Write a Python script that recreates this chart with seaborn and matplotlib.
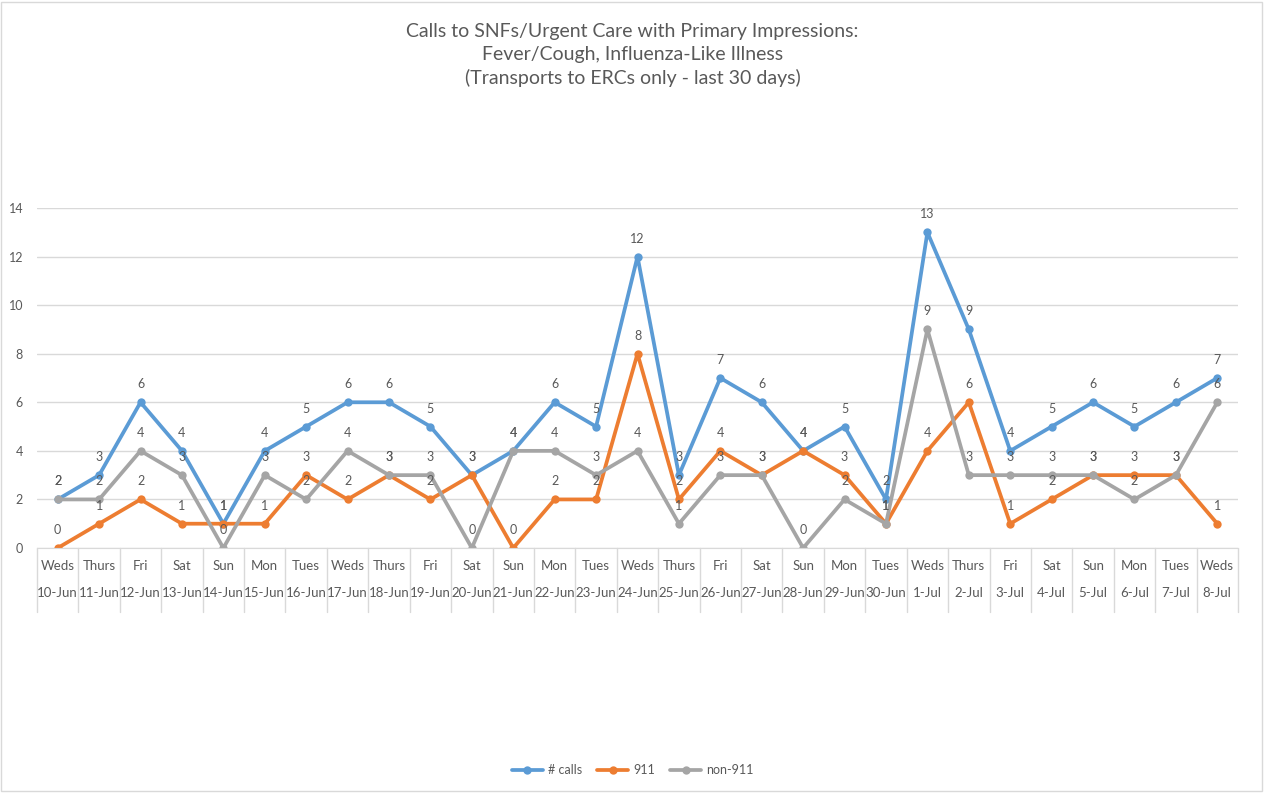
import pandas as pd
import numpy as np
import matplotlib
matplotlib.use('Agg')
import matplotlib.pyplot as plt
import matplotlib.transforms as mtransforms
from matplotlib.lines import Line2D
import seaborn as sns

sns.set_style("white")
plt.rcParams['font.family'] = ['Lato', 'DejaVu Sans']

# data
days = ["Weds", "Thurs", "Fri", "Sat", "Sun", "Mon", "Tues",
        "Weds", "Thurs", "Fri", "Sat", "Sun", "Mon", "Tues",
        "Weds", "Thurs", "Fri", "Sat", "Sun", "Mon", "Tues",
        "Weds", "Thurs", "Fri", "Sat", "Sun", "Mon", "Tues", "Weds"]
dates = ["10-Jun", "11-Jun", "12-Jun", "13-Jun", "14-Jun", "15-Jun", "16-Jun",
         "17-Jun", "18-Jun", "19-Jun", "20-Jun", "21-Jun", "22-Jun", "23-Jun",
         "24-Jun", "25-Jun", "26-Jun", "27-Jun", "28-Jun", "29-Jun", "30-Jun",
         "1-Jul", "2-Jul", "3-Jul", "4-Jul", "5-Jul", "6-Jul", "7-Jul", "8-Jul"]
calls = [2, 3, 6, 4, 1, 4, 5, 6, 6, 5, 3, 4, 6, 5, 12, 3, 7, 6, 4, 5, 2, 13, 9, 4, 5, 6, 5, 6, 7]
calls_911 = [0, 1, 2, 1, 1, 1, 3, 2, 3, 2, 3, 0, 2, 2, 8, 2, 4, 3, 4, 3, 1, 4, 6, 1, 2, 3, 3, 3, 1]
calls_non911 = [2, 2, 4, 3, 0, 3, 2, 4, 3, 3, 0, 4, 4, 3, 4, 1, 3, 3, 0, 2, 1, 9, 3, 3, 3, 3, 2, 3, 6]

series_names = ["# calls", "911", "non-911"]
colors = {"# calls": "#5B9BD5", "911": "#ED7D31", "non-911": "#A5A5A5"}
txt_color = "#595959"

pos = np.arange(len(dates))
df = pd.concat([
    pd.DataFrame({"pos": pos, "value": vals, "series": name})
    for name, vals in zip(series_names, [calls, calls_911, calls_non911])
], ignore_index=True)

fig = plt.figure(figsize=(12.65, 7.93), dpi=100)
ax = fig.add_axes([37 / 1265, 1 - 548 / 793, (1238 - 37) / 1265, (548 - 208) / 793])

sns.lineplot(data=df, x="pos", y="value", hue="series", hue_order=series_names,
             palette=colors, marker="o", markersize=6, markeredgewidth=0,
             linewidth=2.7, ax=ax, legend=False)

# data labels
for name in series_names:
    sub = df[df["series"] == name]
    for x, y in zip(sub["pos"], sub["value"]):
        ax.annotate(str(y), (x, y), xytext=(0, 13), textcoords="offset points",
                    ha="center", va="center", fontsize=9, color=txt_color)

ax.set_xlim(-0.5, len(dates) - 0.5)
ax.set_ylim(0, 14)
ax.set_yticks(range(0, 15, 2))
ax.set_xticks([])
ax.set_xlabel("")
ax.set_ylabel("")
ax.tick_params(axis="y", length=0, labelsize=9, labelcolor=txt_color, pad=10)
ax.grid(axis="y", color="#D9D9D9", linewidth=1)
for s in ["top", "right", "left"]:
    ax.spines[s].set_visible(False)
ax.spines["bottom"].set_color("#D9D9D9")

# two-level category axis
trans = mtransforms.blended_transform_factory(ax.transData, ax.transAxes)
for i in range(len(dates) + 1):
    ax.plot([i - 0.5, i - 0.5], [0, -0.188], transform=trans, clip_on=False,
            color="#D9D9D9", linewidth=1)
for i, (d, dt) in enumerate(zip(days, dates)):
    ax.text(i, -0.053, d, transform=trans, ha="center", va="center",
            fontsize=9.5, color=txt_color)
    ax.text(i, -0.132, dt, transform=trans, ha="center", va="center",
            fontsize=9.5, color=txt_color)

fig.text(0.5, 1 - 55 / 793,
         "Calls to SNFs/Urgent Care with Primary Impressions:\n"
         "Fever/Cough, Influenza-Like Illness\n"
         "(Transports to ERCs only - last 30 days)",
         ha="center", va="center", fontsize=14, color=txt_color, linespacing=1.4)

handles = [Line2D([0], [0], color=colors[n], linewidth=2.7, marker="o",
                  markersize=6, markeredgewidth=0) for n in series_names]
fig.legend(handles, series_names, loc="center", bbox_to_anchor=(0.5, 1 - 770 / 793),
           ncol=3, frameon=False, fontsize=9, labelcolor=txt_color,
           handlelength=2.5, columnspacing=1.2, handletextpad=0.4)

fig.patches.append(plt.Rectangle((0.001, 0.002), 0.997, 0.996, transform=fig.transFigure,
                                 fill=False, edgecolor="#D9D9D9", linewidth=1))

fig.savefig("out.png", dpi=100, facecolor="white")
